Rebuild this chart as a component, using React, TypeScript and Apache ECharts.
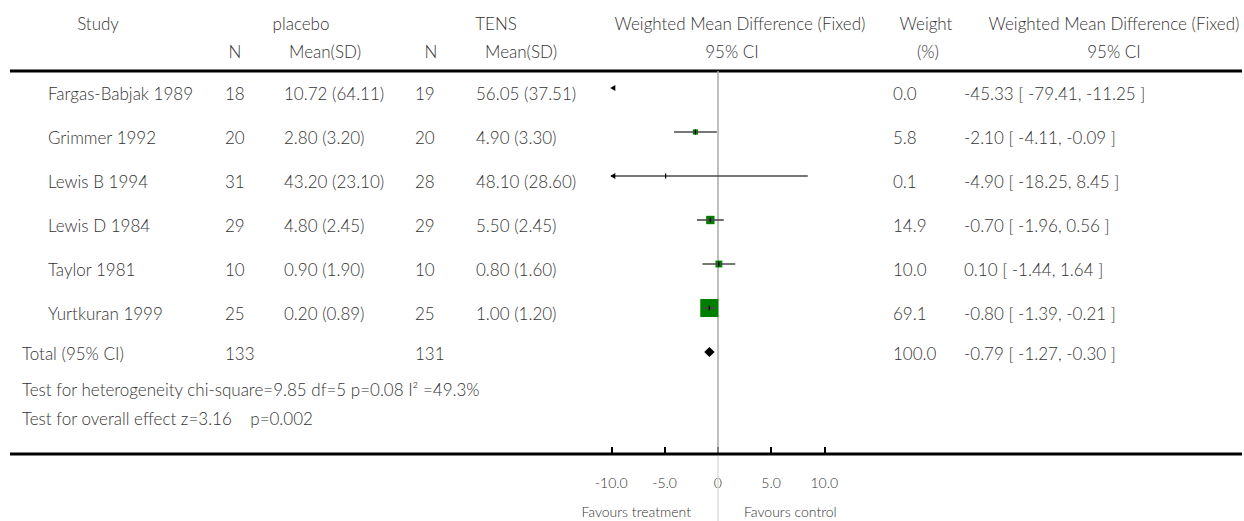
import React, { useEffect, useRef } from "react";
import * as echarts from "echarts";

const STUDIES = ["Fargas-Babjak 1989", "Grimmer 1992", "Lewis B 1994", "Lewis D 1984", "Taylor 1981", "Yurtkuran 1999"];
const N_PLACEBO = [18, 20, 31, 29, 10, 25];
const MEAN_PLACEBO = [10.72, 2.8, 43.2, 4.8, 0.9, 0.2];
const SD_PLACEBO = [64.11, 3.2, 23.1, 2.45, 1.9, 0.89];
const N_TENS = [19, 20, 28, 29, 10, 25];
const MEAN_TENS = [56.05, 4.9, 48.1, 5.5, 0.8, 1.0];
const SD_TENS = [37.51, 3.3, 28.6, 2.45, 1.6, 1.2];
const WEIGHT = [0.0, 5.8, 0.1, 14.9, 10.0, 69.1];
const WMD = [-45.33, -2.1, -4.9, -0.7, 0.1, -0.8];
const CI_LOW = [-79.41, -4.11, -18.25, -1.96, -1.44, -1.39];
const CI_HIGH = [-11.25, -0.09, 8.45, 0.56, 1.64, -0.21];

const TOTAL_LABEL = "Total (95% CI)";
const TOTAL_N_PLACEBO = 133;
const TOTAL_N_TENS = 131;
const TOTAL_WEIGHT = 100.0;
const TOTAL_WMD = -0.79;
const TOTAL_LOW = -1.27;
const TOTAL_HIGH = -0.3;

const HETEROGENEITY = "Test for heterogeneity chi-square=9.85 df=5 p=0.08 I² =49.3%";
const OVERALL = "Test for overall effect z=3.16    p=0.002";

const X_MIN = -10;
const X_MAX = 10;
const X_INTERVAL = 5;

// layout
const W = 1244;
const H = 521;
const PLOT_LEFT = 611.3;
const PLOT_RIGHT = 824.3;
const TOP_LINE = 71;
const AXIS_Y = 454;
const ROW0 = 88;
const ROW_H = 44;
const TEXT_DY = 5;
const FONT = "Lato, 'Open Sans', sans-serif";
const TXT = "#333";
const FS = 17;
const FW = 300;

const fmt2 = (v: number) => v.toFixed(2);
const ciText = (m: number, lo: number, hi: number) => `${fmt2(m)} [ ${fmt2(lo)}, ${fmt2(hi)} ]`;

function txt(text: string, x: number, y: number, align: string = "left", size: number = FS) {
  return {
    type: "text",
    x,
    y,
    silent: true,
    style: {
      text,
      fill: TXT,
      fontSize: size,
      fontFamily: FONT,
      fontWeight: FW,
      textAlign: align,
      textVerticalAlign: "middle",
      align,
      verticalAlign: "middle",
    },
  };
}

export default function App() {
  const ref = useRef<HTMLDivElement>(null);

  useEffect(() => {
    document.body.style.margin = "0";
    if (!ref.current) return;
    const chart = echarts.init(ref.current, undefined, { renderer: "svg" });

    const rowY = (i: number) => ROW0 + ROW_H * i;
    const yMin = (TOP_LINE - ROW0) / ROW_H;
    const yMax = (AXIS_Y - ROW0) / ROW_H;

    const graphics: any[] = [];
    const h1 = 23;
    const h2 = 51;
    graphics.push(txt("Study", 98, h1, "center"));
    graphics.push(txt("placebo", 301, h1, "center"));
    graphics.push(txt("TENS", 496, h1, "center"));
    graphics.push(txt("Weighted Mean Difference (Fixed)", 740, h1, "center"));
    graphics.push(txt("Weight", 926, h1, "center"));
    graphics.push(txt("Weighted Mean Difference (Fixed)", 1114, h1, "center"));
    graphics.push(txt("N", 235, h2, "center"));
    graphics.push(txt("Mean(SD)", 289, h2, "left"));
    graphics.push(txt("N", 431, h2, "center"));
    graphics.push(txt("Mean(SD)", 485, h2, "left"));
    graphics.push(txt("95% CI", 732, h2, "center"));
    graphics.push(txt("(%)", 928, h2, "center"));
    graphics.push(txt("95% CI", 1114, h2, "center"));

    STUDIES.forEach((s, i) => {
      const y = rowY(i) + TEXT_DY;
      graphics.push(txt(s, 48, y));
      graphics.push(txt(String(N_PLACEBO[i]), 225, y));
      graphics.push(txt(`${fmt2(MEAN_PLACEBO[i])} (${fmt2(SD_PLACEBO[i])})`, 284, y));
      graphics.push(txt(String(N_TENS[i]), 415, y));
      graphics.push(txt(`${fmt2(MEAN_TENS[i])} (${fmt2(SD_TENS[i])})`, 476, y));
      graphics.push(txt(WEIGHT[i].toFixed(1), 893, y));
      graphics.push(txt(ciText(WMD[i], CI_LOW[i], CI_HIGH[i]), 964, y));
    });
    const ty = rowY(STUDIES.length) + 1;
    graphics.push(txt(TOTAL_LABEL, 22, ty));
    graphics.push(txt(String(TOTAL_N_PLACEBO), 225, ty));
    graphics.push(txt(String(TOTAL_N_TENS), 415, ty));
    graphics.push(txt(TOTAL_WEIGHT.toFixed(1), 893, ty));
    graphics.push(txt(ciText(TOTAL_WMD, TOTAL_LOW, TOTAL_HIGH), 964, ty));
    graphics.push(txt(HETEROGENEITY, 22, 389));
    graphics.push(txt(OVERALL, 22, 418));

    graphics.push({
      type: "line",
      silent: true,
      shape: { x1: 10, y1: TOP_LINE, x2: W - 2, y2: TOP_LINE },
      style: { stroke: "#000", lineWidth: 3 },
    });
    graphics.push({
      type: "line",
      silent: true,
      z: 10,
      shape: { x1: 10, y1: AXIS_Y, x2: W - 2, y2: AXIS_Y },
      style: { stroke: "#000", lineWidth: 3 },
    });

    graphics.push(txt("Favours treatment", 691, 511, "right", 14));
    graphics.push(txt("Favours control", 744, 511, "left", 14));

    const studyData = STUDIES.map((_, i) => [i, WMD[i], CI_LOW[i], CI_HIGH[i], WEIGHT[i]]);
    const totalData = [[STUDIES.length, TOTAL_WMD, TOTAL_LOW, TOTAL_HIGH]];

    const option: any = {
      animation: false,
      backgroundColor: "#fff",
      grid: [
        { left: PLOT_LEFT, right: W - PLOT_RIGHT, top: TOP_LINE, bottom: H - AXIS_Y, containLabel: false },
        { left: PLOT_LEFT, right: W - PLOT_RIGHT, top: AXIS_Y + 2, bottom: 0, containLabel: false },
      ],
      xAxis: [
        {
          type: "value",
          gridIndex: 0,
          min: X_MIN,
          max: X_MAX,
          interval: X_INTERVAL,
          splitLine: { show: false },
          axisLine: { show: false, onZero: false },
          axisTick: { show: true, inside: true, length: 7, lineStyle: { color: "#000", width: 2 } },
          axisLabel: {
            margin: 21,
            color: TXT,
            fontSize: 14,
            fontFamily: FONT,
            fontWeight: FW,
            formatter: (v: number) => (v === 0 ? "0" : v.toFixed(1)),
          },
        },
        { type: "value", gridIndex: 1, min: X_MIN, max: X_MAX, show: false },
      ],
      yAxis: [
        { type: "value", gridIndex: 0, min: yMin, max: yMax, inverse: true, show: false },
        { type: "value", gridIndex: 1, min: 0, max: 1, show: false },
      ],
      graphic: graphics,
      series: [
        {
          type: "custom",
          xAxisIndex: 0,
          yAxisIndex: 0,
          data: studyData,
          clip: false,
          encode: { x: [1, 2, 3], y: 0 },
          renderItem: (params: any, api: any) => {
            const row = api.value(0);
            const m = api.value(1);
            const lo = api.value(2);
            const hi = api.value(3);
            const w = api.value(4);
            const children: any[] = [];
            const loC = Math.max(lo, X_MIN);
            const hiC = Math.min(hi, X_MAX);
            const pm = api.coord([m, row]);
            const py = pm[1];
            const inRange = m >= X_MIN && m <= X_MAX;
            if (inRange && w > 0) {
              const s = 2.17 * Math.sqrt(w);
              children.push({
                type: "rect",
                shape: { x: pm[0] - s / 2, y: py - s / 2, width: s, height: s },
                style: { fill: "#008000" },
              });
            }
            if (hiC > loC) {
              const a = api.coord([loC, row]);
              const b = api.coord([hiC, row]);
              children.push({
                type: "line",
                shape: { x1: a[0], y1: py, x2: b[0], y2: py },
                style: { stroke: "#4a4a4a", lineWidth: 1.6 },
              });
            }
            if (lo < X_MIN) {
              const a = api.coord([X_MIN, row]);
              children.push({
                type: "polygon",
                shape: { points: [[a[0] - 1, py], [a[0] + 4, py - 3], [a[0] + 4, py + 3]] },
                style: { fill: "#000" },
              });
            }
            if (hi > X_MAX) {
              const b = api.coord([X_MAX, row]);
              children.push({
                type: "polygon",
                shape: { points: [[b[0] + 1, py], [b[0] - 4, py - 3], [b[0] - 4, py + 3]] },
                style: { fill: "#000" },
              });
            }
            if (inRange) {
              children.push({
                type: "line",
                shape: { x1: pm[0], y1: py - 2.5, x2: pm[0], y2: py + 2.5 },
                style: { stroke: "#000", lineWidth: 1.2 },
              });
            }
            return { type: "group", children };
          },
          markLine: {
            silent: true,
            symbol: "none",
            label: { show: false },
            lineStyle: { color: "#aaa", width: 1.5, type: "solid" },
            data: [{ xAxis: 0 }],
            z: 1,
          },
          z: 5,
        },
        {
          type: "custom",
          xAxisIndex: 0,
          yAxisIndex: 0,
          data: totalData,
          encode: { x: [1, 2, 3], y: 0 },
          renderItem: (params: any, api: any) => {
            const row = api.value(0);
            const c = api.coord([api.value(1), row]);
            const l = api.coord([api.value(2), row]);
            const r = api.coord([api.value(3), row]);
            return {
              type: "polygon",
              shape: { points: [[l[0], c[1]], [c[0], c[1] - 5], [r[0], c[1]], [c[0], c[1] + 5]] },
              style: { fill: "#000" },
            };
          },
          z: 6,
        },
        {
          type: "line",
          xAxisIndex: 1,
          yAxisIndex: 1,
          data: [],
          markLine: {
            silent: true,
            symbol: "none",
            label: { show: false },
            lineStyle: { color: "#ddd", width: 1.5, type: "solid" },
            data: [{ xAxis: 0 }],
          },
        },
      ],
    };
    chart.setOption(option);
    return () => chart.dispose();
  }, []);

  return <div ref={ref} style={{ width: W, height: H }} />;
}
